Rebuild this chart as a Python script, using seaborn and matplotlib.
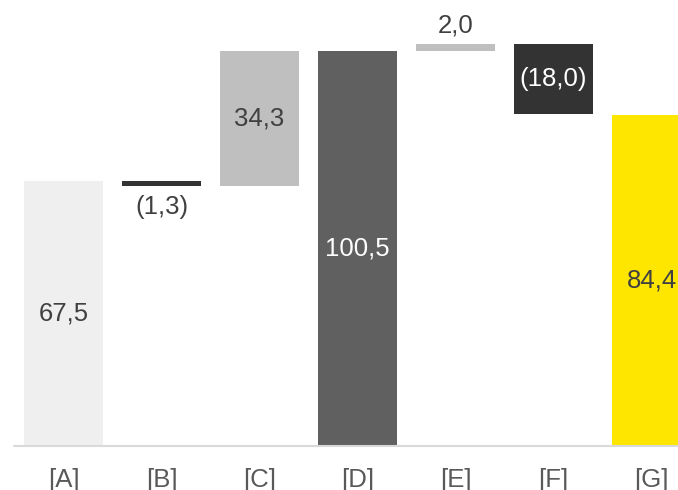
import matplotlib
matplotlib.use("Agg")
import matplotlib.pyplot as plt
import seaborn as sns
import numpy as np

categories = ["[A]", "[B]", "[C]", "[D]", "[E]", "[F]", "[G]"]
changes = [67.5, -1.3, 34.3, 100.5, 2.0, -18.0, 84.4]
is_total = [True, False, False, True, False, False, True]
labels = ["67,5", "(1,3)", "34,3", "100,5", "2,0", "(18,0)", "84,4"]
colors = ["#efefef", "#333333", "#bfbfbf", "#606060", "#bfbfbf", "#333333", "#ffe600"]
text_colors = ["#404040", "#404040", "#404040", "#ffffff", "#404040", "#ffffff", "#404040"]

# waterfall geometry from the values
bottoms, heights = [], []
running = 0.0
for v, tot in zip(changes, is_total):
    if tot:
        bottoms.append(0.0)
        heights.append(v)
        running = v
    else:
        if v >= 0:
            bottoms.append(running)
            heights.append(v)
        else:
            bottoms.append(running + v)
            heights.append(-v)
        running += v

sns.set_theme(style="white")
plt.rcParams["font.family"] = ["Liberation Sans", "DejaVu Sans"]

fig = plt.figure(figsize=(6.78, 4.90), dpi=100)
ax = fig.add_axes([0, 44 / 490, 1, 446 / 490])

sns.barplot(x=categories, y=heights, bottom=bottoms, width=79 / 98,
            color="#bfbfbf", saturation=1, ax=ax)
for p, c in zip(ax.patches, colors):
    p.set_facecolor(c)
    p.set_edgecolor("none")

ax.set_xlim(-63.5 / 98, (678 - 63.5) / 98)
ax.set_ylim(0, 446 / 3.926)

fs = 18.5
for i, (b, h, lab, tc, v) in enumerate(zip(bottoms, heights, labels, text_colors, changes)):
    if h > 10:
        ax.text(i, b + h / 2, lab, ha="center", va="center", fontsize=fs, color=tc)
    elif v < 0:
        ax.text(i, b - 5.4, lab, ha="center", va="center", fontsize=fs, color=tc)
    else:
        ax.text(i, b + h + 4.7, lab, ha="center", va="center", fontsize=fs, color=tc)

for s in ax.spines.values():
    s.set_visible(False)
ax.axhline(0, xmin=14 / 678, xmax=1, color="#d9d9d9", lw=1.5, clip_on=False)
ax.set_yticks([])
ax.tick_params(axis="x", length=0, pad=16, labelsize=fs, labelcolor="#595959")
ax.set_xlabel("")
ax.set_ylabel("")

fig.savefig("out.png", dpi=100)
